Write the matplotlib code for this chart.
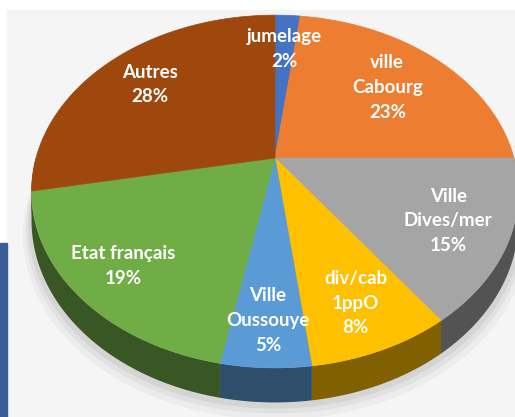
import numpy as np
import matplotlib
matplotlib.use('Agg')
import matplotlib.pyplot as plt
from matplotlib.patches import Polygon, Rectangle

# data
labels = ['jumelage', 'ville\nCabourg', 'Ville\nDives/mer', 'div/cab\n1ppO',
          'Ville\nOussouye', 'Etat français', 'Autres']
values = [2, 23, 15, 8, 5, 19, 28]
colors = ['#4472C4', '#ED7D31', '#A5A5A5', '#FFC000', '#5B9BD5', '#70AD47', '#9E480E']

# look of the tilted pie (pixel space)
cx, cy = 275, 158      # pie centre on screen
SX, SY = 239, 170      # radii
K = 0.19               # perspective
DEPTH = 28             # thickness of the side
label_r = [0.73, 0.68, 0.76, 0.79, 0.81, 0.80, 0.74]

def proj(theta, r=1.0, down=0.0):
    x = r * np.sin(theta)
    y = r * np.cos(theta)
    w = 1 + K * y
    return cx + SX * x / w, cy - SY * y / w + down / w

fig = plt.figure(figsize=(5.15, 4.17), dpi=100)
ax = fig.add_axes([0, 0, 1, 1])
ax.set_xlim(0, 515)
ax.set_ylim(417, 0)
ax.axis('off')

# background panel and blue bar on the left
ax.add_patch(Rectangle((7, 10), 508, 407, color='#f5f5f5', zorder=0))
ax.add_patch(Rectangle((0, 243), 7, 174, color='#3A5C99', zorder=0))

# soft shadow under the front rim
t = np.linspace(np.pi / 2 - 0.3, 3 * np.pi / 2 + 0.3, 200)
for grow, a in [(14, 0.05), (9, 0.07), (5, 0.09)]:
    bx, by = proj(t, 1.0, DEPTH + grow)
    bx = cx + (bx - cx) * (1 + grow / 400)
    tx, ty = proj(t[::-1], 0.85)
    ax.add_patch(Polygon(np.column_stack([np.r_[bx, tx], np.r_[by, ty]]),
                         closed=True, color='#555555', alpha=a, lw=0, zorder=1))

total = sum(values)
bounds = np.cumsum([0] + values) / total * 2 * np.pi

# side walls (front half only)
for i, c in enumerate(colors):
    a0 = max(bounds[i], np.pi / 2)
    a1 = min(bounds[i + 1], 3 * np.pi / 2)
    if a1 <= a0:
        continue
    t = np.linspace(a0, a1, 80)
    tx, ty = proj(t)
    bx, by = proj(t[::-1], 1.0, DEPTH)
    rgb = np.array(matplotlib.colors.to_rgb(c)) * 0.5
    ax.add_patch(Polygon(np.column_stack([np.r_[tx, bx], np.r_[ty, by]]),
                         closed=True, color=rgb, lw=0, zorder=2))

# top face
for i, c in enumerate(colors):
    t = np.linspace(bounds[i], bounds[i + 1], 120)
    tx, ty = proj(t)
    px = np.r_[cx, tx]
    py = np.r_[cy, ty]
    ax.add_patch(Polygon(np.column_stack([px, py]), closed=True,
                         facecolor=c, edgecolor=c, lw=0.5, zorder=3))

# labels
for i, lab in enumerate(labels):
    mid = (bounds[i] + bounds[i + 1]) / 2
    lx, ly = proj(mid, label_r[i])
    ax.text(lx, ly, f'{lab}\n{values[i]}%', ha='center', va='center',
            color='white', fontsize=13.5, fontweight='bold', family='Lato',
            linespacing=1.55, zorder=4)

fig.savefig('out.png', dpi=100)
